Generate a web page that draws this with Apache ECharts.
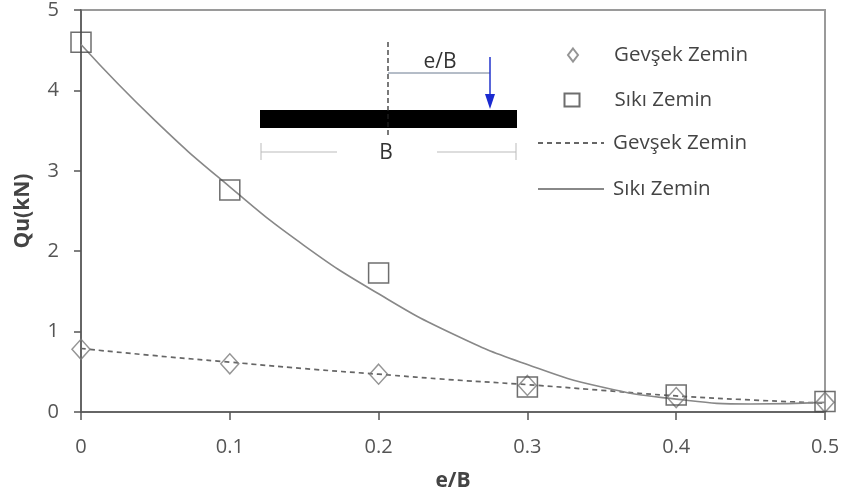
<!DOCTYPE html>
<html>
<head>
<meta charset="utf-8">
<script src="https://cdn.jsdelivr.net/npm/echarts@6/dist/echarts.min.js"></script>
<style>html,body{margin:0;padding:0;background:#fff}#c{width:849px;height:499px}</style>
</head>
<body>
<div id="c"></div>
<script>
// ---- data ----
var xValues = [0, 0.1, 0.2, 0.3, 0.4, 0.5];
var gevsekPoints = [0.78, 0.60, 0.47, 0.33, 0.18, 0.12];
var sikiPoints = [4.60, 2.76, 1.73, 0.31, 0.21, 0.13];
var trendX = [0, 0.05, 0.1, 0.15, 0.2, 0.25, 0.3, 0.35, 0.4, 0.45, 0.5];
var gevsekTrend = [0.79, 0.70, 0.62, 0.54, 0.47, 0.40, 0.34, 0.27, 0.20, 0.15, 0.11];
var sikiTrend = [4.57, 3.62, 2.80, 2.07, 1.47, 0.97, 0.59, 0.31, 0.16, 0.10, 0.12];
var xTicks = [0, 0.1, 0.2, 0.3, 0.4, 0.5];
var yTicks = [0, 1, 2, 3, 4, 5];
var labelGevsek = 'Gevşek Zemin';
var labelSiki = 'Sıkı Zemin';
var xName = 'e/B';
var yName = 'Qu(kN)';

function pairs(xs, ys) { return xs.map(function (x, i) { return [x, ys[i]]; }); }

var FONT = 'Open Sans';
var chart = echarts.init(document.getElementById('c'), null, { renderer: 'canvas' });

function legendBox(seriesName, display, icon, centerX, centerY, w, h, padLeft, hideSymbol) {
  var l = {
    data: [{ name: seriesName, icon: icon }], left: centerX - w / 2, top: centerY - 11, orient: 'vertical',
    itemWidth: w, itemHeight: h, selectedMode: false, padding: 0,
    formatter: function () { return display; },
    textStyle: { fontFamily: FONT, fontSize: 20.5, lineHeight: 22, color: '#444', padding: [0, 0, 0, padLeft] }
  };
  if (hideSymbol) l.itemStyle = { opacity: 0 };
  return l;
}

var option = {
  animation: false,
  backgroundColor: '#fff',
  grid: { left: 81, right: 24, top: 6, bottom: 87, show: true, borderColor: '#9a9a9a', borderWidth: 2 },
  legend: [
    legendBox('gevsekPts', labelGevsek, 'diamond', 572, 55, 10, 13, 31, false),
    legendBox('sikiPts', labelSiki, 'rect', 571, 100, 15, 13, 30, false),
    legendBox('gevsekLine', labelGevsek, undefined, 570, 143, 66, 14, 4, true),
    legendBox('sikiLine', labelSiki, undefined, 570, 189, 66, 14, 4, true)
  ],
  xAxis: {
    type: 'value', min: xTicks[0], max: xTicks[xTicks.length - 1], interval: 0.1,
    name: xName, nameLocation: 'middle', nameGap: 59,
    nameTextStyle: { fontFamily: FONT, fontSize: 21, fontWeight: 'bold', color: '#444' },
    axisLine: { lineStyle: { color: '#555', width: 1.5 } },
    axisTick: { show: true, inside: false, length: 8, lineStyle: { color: '#555', width: 1.5 } },
    axisLabel: { margin: 25, fontFamily: FONT, fontSize: 20, color: '#555',
      formatter: function (v) { return String(Math.round(v * 10) / 10); } },
    splitLine: { show: false }
  },
  yAxis: {
    type: 'value', min: yTicks[0], max: yTicks[yTicks.length - 1], interval: 1,
    name: yName, nameLocation: 'middle', nameGap: 47, nameRotate: 90,
    nameTextStyle: { fontFamily: FONT, fontSize: 21, fontWeight: 'bold', color: '#444' },
    axisLine: { show: true, lineStyle: { color: '#555', width: 1.5 } },
    axisTick: { show: true, length: 7, lineStyle: { color: '#555', width: 1.5 } },
    axisLabel: { margin: 22, fontFamily: FONT, fontSize: 20, color: '#555' },
    splitLine: { show: false }
  },
  series: [
    { name: 'gevsekLine', type: 'line', data: pairs(trendX, gevsekTrend), smooth: true,
      symbol: 'none', lineStyle: { color: '#666', width: 1.7, type: [5, 4] }, itemStyle: { color: '#666' }, z: 2 },
    { name: 'sikiLine', type: 'line', data: pairs(trendX, sikiTrend), smooth: true,
      symbol: 'none', lineStyle: { color: '#888', width: 1.6, type: 'solid' }, itemStyle: { color: '#888' }, z: 2 },
    { name: 'gevsekPts', type: 'scatter', data: pairs(xValues, gevsekPoints), symbol: 'diamond', symbolSize: [18, 20],
      itemStyle: { color: 'rgba(255,255,255,0)', borderColor: '#7a7a7a', borderWidth: 1.5 }, z: 3 },
    { name: 'sikiPts', type: 'scatter', data: pairs(xValues, sikiPoints), symbol: 'rect', symbolSize: 20,
      itemStyle: { color: 'rgba(255,255,255,0)', borderColor: '#4a4a4a', borderWidth: 1.5 }, z: 4 }
  ],
  graphic: [
    { type: 'rect', shape: { x: 260, y: 110, width: 257, height: 18 }, style: { fill: '#000' }, z: 10 },
    { type: 'line', shape: { x1: 388, y1: 42, x2: 388, y2: 136 }, style: { stroke: '#222', lineWidth: 1.2, lineDash: [5, 3] }, z: 11 },
    { type: 'line', shape: { x1: 388, y1: 73, x2: 490, y2: 73 }, style: { stroke: '#6a7a90', lineWidth: 1 }, z: 10 },
    { type: 'text', style: { x: 440, y: 62, text: xName, fontFamily: FONT, fontSize: 21, fill: '#333', align: 'center', verticalAlign: 'middle' }, z: 10 },
    { type: 'line', shape: { x1: 490, y1: 57, x2: 490, y2: 100 }, style: { stroke: '#2233cc', lineWidth: 1.5 }, z: 10 },
    { type: 'polygon', shape: { points: [[485, 94], [495, 94], [490, 109]] }, style: { fill: '#1a2ad0' }, z: 10 },
    { type: 'line', shape: { x1: 261, y1: 152, x2: 337, y2: 152 }, style: { stroke: '#bbb', lineWidth: 1 }, z: 10 },
    { type: 'line', shape: { x1: 437, y1: 152, x2: 516, y2: 152 }, style: { stroke: '#bbb', lineWidth: 1 }, z: 10 },
    { type: 'line', shape: { x1: 261, y1: 143, x2: 261, y2: 160 }, style: { stroke: '#bbb', lineWidth: 1 }, z: 10 },
    { type: 'line', shape: { x1: 516, y1: 143, x2: 516, y2: 160 }, style: { stroke: '#bbb', lineWidth: 1 }, z: 10 },
    { type: 'text', style: { x: 386, y: 153, text: 'B', fontFamily: FONT, fontSize: 21, fill: '#333', align: 'center', verticalAlign: 'middle' }, z: 12 }
  ]
};
chart.setOption(option);
</script>
</body>
</html>
